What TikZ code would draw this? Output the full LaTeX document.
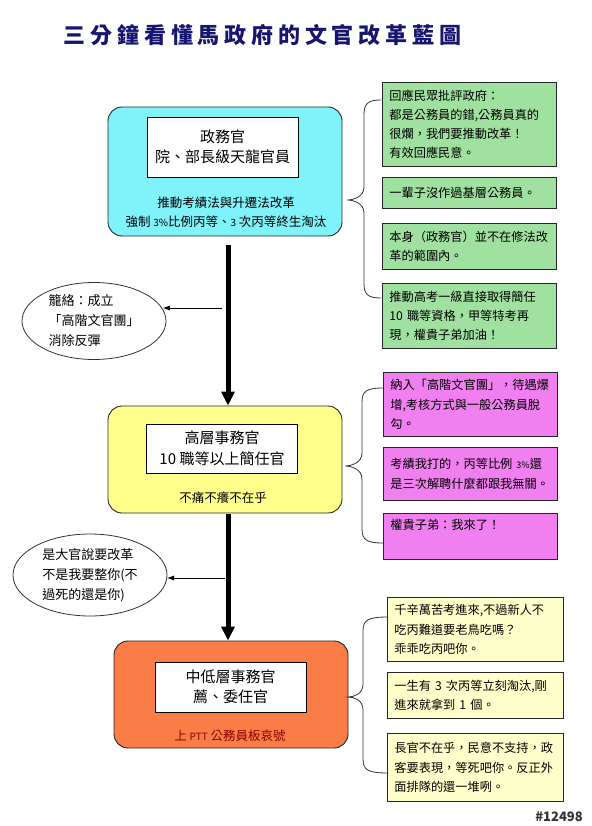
\documentclass[tikz,border=0pt]{standalone}
\usepackage{fontspec}
\setmainfont{Noto Sans CJK TC}
\usetikzlibrary{arrows.meta,shapes.geometric}
\definecolor{navy}{RGB}{22,22,112}
\definecolor{cyanbox}{RGB}{128,242,250}
\definecolor{yelbox}{RGB}{255,255,140}
\definecolor{orabox}{RGB}{250,125,72}
\definecolor{grebox}{RGB}{160,224,160}
\definecolor{magbox}{RGB}{240,128,240}
\definecolor{lyebox}{RGB}{255,255,204}
\definecolor{darkred}{RGB}{140,0,0}
\newcommand\mybrace[6]{%
  \draw[bracepath] (#1,#2) .. controls (#3+5,#2) and (#3,#2+3) .. (#3,#2+14)
    -- (#3,#5-13) .. controls (#3,#5-3) and (#4+6,#5) .. (#4,#5)
    .. controls (#4+6,#5) and (#3,#5+3) .. (#3,#5+13)
    -- (#3,#6-14) .. controls (#3,#6-3) and (#3+5,#6) .. (#1,#6);}
\newcommand\tk{\kern4.8pt\relax}
\tikzset{
  bigbox/.style={draw=black!85, line width=0.9pt, rounded corners=14pt, minimum width=234pt, inner sep=0pt},
  innerbox/.style={draw=black, line width=0.8pt, fill=white, minimum width=151pt, inner sep=0pt, align=center, font=\fontsize{15}{20.5}\selectfont},
  subtxt/.style={align=center, font=\fontsize{12.5}{19}\selectfont, inner sep=0pt},
  notebox/.style={draw=black!85, line width=0.8pt, text width=160pt, inner xsep=7pt, inner ysep=0pt, align=left, font=\fontsize{12.2}{19.2}\selectfont},
  ell/.style={ellipse, draw=black!80, line width=0.8pt, inner sep=0pt, align=left, font=\fontsize{13}{20}\selectfont},
  bigarrow/.style={line width=5pt, -{Triangle[length=14pt,width=13pt]}},
  thinarrow/.style={line width=0.8pt, -{Latex[length=7pt,width=5pt]}},
  bracepath/.style={draw=black!80, line width=0.8pt}
}
\begin{document}
\begin{tikzpicture}[x=1pt,y=-1pt]
\useasboundingbox[fill=white] (0,0) rectangle (591,826);
% title
\node[text=navy, font=\fontsize{22}{26}\bfseries\selectfont, inner sep=0pt] (title) at (262.5,35)
  {三\tk 分\tk 鐘\tk 看\tk 懂\tk 馬\tk 政\tk 府\tk 的\tk 文\tk 官\tk 改\tk 革\tk 藍\tk 圖};
% big boxes
\node[bigbox, fill=cyanbox, minimum height=129pt] (cyan) at (225,171.5) {};
\node[innerbox, minimum height=60pt] (cyanin) at (222.5,147) {政務官\\院、部長級天龍官員};
\node[subtxt] (cyantx) at (226,212) {推動考績法與升遷法改革\\強制 {\fontsize{10}{12}\selectfont 3\%}比例丙等、{\fontsize{10}{12}\selectfont 3} 次丙等終生淘汰};
\node[bigbox, fill=yelbox, minimum height=107pt] (yel) at (225,459.5) {};
\node[innerbox, minimum height=49pt] (yelin) at (222,448.5) {高層事務官\\10 職等以上簡任官};
\node[subtxt] (yeltx) at (223,498) {不痛不癢不在乎};
\node[bigbox, fill=orabox, minimum height=107pt] (ora) at (231,694.5) {};
\node[innerbox, minimum height=50pt] (orain) at (230.5,687) {中低層事務官\\薦、委任官};
\node[subtxt, text=darkred] (oratx) at (230,736) {上 {\fontsize{10}{12}\selectfont PTT} 公務員板哀號};
% thick arrows
\coordinate (ax) at (228,0);
\draw[bigarrow, shorten <=9pt] (cyan.south -| ax) -- (yel.north -| ax);
\draw[bigarrow, shorten <=1pt] (yel.south -| ax) -- (ora.north -| ax);
% ellipses
\node[ell, minimum width=144pt, minimum height=77pt] (ell1) at (94,321) {籠絡：成立\\「高階文官團」\\消除反彈};
\node[ell, minimum width=154pt, minimum height=82pt] (ell2) at (90,575) {是大官說要改革\\不是我要整你(不\\過死的還是你)};
\coordinate (t1) at (222,308);
\coordinate (t2) at (225,578);
\draw[thinarrow] (t1) -- (t1 -| ell1.10);
\draw[thinarrow] (t2) -- (t2 -| ell2.3);
% green notes
\node[notebox, fill=grebox, minimum height=84pt, anchor=north west] (g1) at (382,82) {回應民眾批評政府：\\都是公務員的錯,公務員真的\\很爛，我們要推動改革！\\有效回應民意。};
\node[notebox, fill=grebox, minimum height=31pt, anchor=north west] (g2) at (382,177) {一輩子沒作過基層公務員。};
\node[notebox, fill=grebox, minimum height=46pt, anchor=north west] (g3) at (382,223) {本身（政務官）並不在修法改\\革的範圍內。};
\node[notebox, fill=grebox, minimum height=65pt, anchor=north west] (g4) at (382,283) {推動高考一級直接取得簡任\\10 職等資格，甲等特考再\\現，權貴子弟加油！};
% magenta notes
\node[notebox, fill=magbox, minimum height=64pt, anchor=north west] (m1) at (383,372) {納入「高階文官團」，待遇爆\\增,考核方式與一般公務員脫\\勾。};
\node[notebox, fill=magbox, minimum height=53pt, anchor=north west] (m2) at (383,447) {考績我打的，丙等比例 {\fontsize{9}{10}\selectfont 3\%}還\\是三次解聘什麼都跟我無關。};
\node[notebox, fill=magbox, minimum height=46pt, anchor=north west] (m3) at (383,513) {權貴子弟：我來了！\\\strut};
% light yellow notes
\node[notebox, fill=lyebox, minimum height=64pt, text width=162pt, anchor=north west] (y1) at (387,597) {千辛萬苦考進來,不過新人不\\吃丙難道要老鳥吃嗎？\\乖乖吃丙吧你。};
\node[notebox, fill=lyebox, minimum height=46pt, text width=162pt, anchor=north west] (y2) at (387,672) {一生有 3 次丙等立刻淘汰,剛\\進來就拿到 1 個。};
\node[notebox, fill=lyebox, minimum height=68pt, text width=162pt, anchor=north west] (y3) at (387,733) {長官不在乎，民意不支持，政\\客要表現，等死吧你。反正外\\面排隊的還一堆咧。};
% braces
\mybrace{381}{100}{364}{347}{200}{298}
\mybrace{383}{388}{362}{345}{466}{543}
\mybrace{388}{617}{363}{348}{697}{773}
% id
\node[font=\fontsize{13}{15}\bfseries\selectfont, text=black!80, inner sep=0pt] (id) at (559,817) {\#12498};
\end{tikzpicture}
\end{document}
